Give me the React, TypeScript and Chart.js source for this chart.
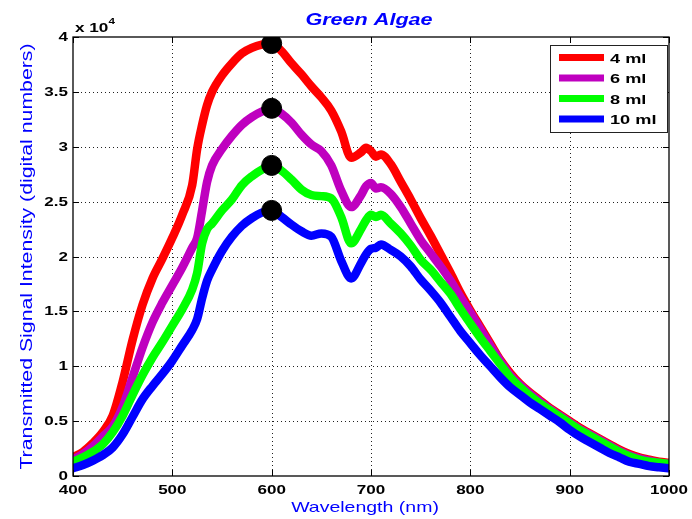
import React, { useEffect, useRef } from "react";
import { Chart, registerables } from "chart.js";

Chart.register(...registerables);

// Wavelength (nm) sample positions
const wavelengths = [
  400, 410, 420, 430, 440, 450, 460, 470, 480, 490, 500, 510, 520, 525, 530, 535, 540,
  550, 560, 570, 580, 590, 600, 610, 620, 630, 640, 650, 660, 670, 680, 690, 695, 700,
  705, 710, 720, 730, 740, 750, 760, 770, 780, 790, 800, 810, 820, 830, 840, 850, 860,
  870, 880, 890, 900, 910, 920, 930, 940, 950, 960, 970, 980, 990, 1000,
];

// Transmitted signal intensity, in units of 10^4 digital numbers
const signal4ml = [
  0.17, 0.22, 0.30, 0.40, 0.55, 0.86, 1.24, 1.56, 1.80, 1.98, 2.17, 2.38, 2.65, 2.98, 3.20, 3.38, 3.50,
  3.65, 3.76, 3.85, 3.90, 3.93, 3.94, 3.87, 3.76, 3.66, 3.55, 3.45, 3.33, 3.14, 2.90, 2.95, 2.99, 2.96,
  2.91, 2.93, 2.84, 2.68, 2.52, 2.35, 2.19, 2.02, 1.85, 1.67, 1.51, 1.36, 1.21, 1.06, 0.94, 0.84, 0.76,
  0.69, 0.62, 0.56, 0.50, 0.44, 0.39, 0.34, 0.29, 0.24, 0.20, 0.17, 0.15, 0.13, 0.12,
];
const signal6ml = [
  0.15, 0.20, 0.27, 0.36, 0.45, 0.63, 0.90, 1.17, 1.40, 1.58, 1.74, 1.90, 2.08, 2.17, 2.42, 2.68, 2.83,
  2.98, 3.10, 3.20, 3.27, 3.32, 3.35, 3.30, 3.22, 3.11, 3.02, 2.96, 2.83, 2.60, 2.45, 2.56, 2.64, 2.67,
  2.62, 2.63, 2.57, 2.45, 2.30, 2.15, 2.03, 1.91, 1.78, 1.63, 1.49, 1.34, 1.19, 1.05, 0.92, 0.83, 0.75,
  0.68, 0.61, 0.55, 0.49, 0.43, 0.38, 0.33, 0.28, 0.23, 0.19, 0.16, 0.14, 0.12, 0.11,
];
const signal8ml = [
  0.13, 0.17, 0.22, 0.29, 0.40, 0.55, 0.74, 0.92, 1.08, 1.22, 1.37, 1.52, 1.70, 1.85, 2.12, 2.25, 2.30,
  2.42, 2.52, 2.65, 2.73, 2.79, 2.83, 2.78, 2.70, 2.61, 2.56, 2.55, 2.53, 2.36, 2.12, 2.25, 2.33, 2.38,
  2.36, 2.38, 2.30, 2.21, 2.10, 1.97, 1.88, 1.77, 1.66, 1.52, 1.39, 1.26, 1.14, 1.02, 0.90, 0.81, 0.73,
  0.66, 0.60, 0.54, 0.48, 0.42, 0.37, 0.32, 0.27, 0.22, 0.18, 0.15, 0.13, 0.12, 0.11,
];
const signal10ml = [
  0.07, 0.10, 0.14, 0.19, 0.26, 0.38, 0.54, 0.70, 0.82, 0.93, 1.05, 1.19, 1.33, 1.43, 1.62, 1.78, 1.88,
  2.05, 2.18, 2.28, 2.35, 2.40, 2.42, 2.36, 2.29, 2.23, 2.19, 2.21, 2.18, 1.96, 1.80, 1.94, 2.02, 2.07,
  2.08, 2.11, 2.06, 2.00, 1.91, 1.79, 1.69, 1.58, 1.45, 1.32, 1.21, 1.10, 1.00, 0.90, 0.81, 0.74, 0.67,
  0.61, 0.55, 0.49, 0.42, 0.36, 0.31, 0.26, 0.21, 0.17, 0.13, 0.11, 0.09, 0.08, 0.07,
];

const seriesLabels = ["4 ml", "6 ml", "8 ml", "10 ml"];
const seriesValues = [signal4ml, signal6ml, signal8ml, signal10ml];
const seriesColors = ["#ff0000", "#bf00bf", "#00ff00", "#0000ff"];
const peakWavelength = 600;

const xTicks = [400, 500, 600, 700, 800, 900, 1000];
const xTickLabels = ["400", "500", "600", "700", "800", "900", "1000"];
const yTicks = [0, 0.5, 1, 1.5, 2, 2.5, 3, 3.5, 4];
const yTickLabels = ["0", "0.5", "1", "1.5", "2", "2.5", "3", "3.5", "4"];

const titleText = "Green Algae";
const xTitle = "Wavelength (nm)";
const yTitle = "Transmitted Signal Intensity (digital numbers)";

const FONT = '"Liberation Sans", Arial, Helvetica, sans-serif';

function drawText(
  ctx: CanvasRenderingContext2D,
  s: string,
  x: number,
  y: number,
  font: string,
  color: string,
  align: CanvasTextAlign,
  baseline: CanvasTextBaseline,
  sx: number,
  rot = 0
) {
  ctx.save();
  ctx.translate(x, y);
  if (rot) ctx.rotate(rot);
  ctx.scale(sx, 1);
  ctx.font = font;
  ctx.fillStyle = color;
  ctx.textAlign = align;
  ctx.textBaseline = baseline;
  ctx.fillText(s, 0, 0);
  ctx.restore();
}

const gridPlugin = {
  id: "matlabGrid",
  beforeDatasetsDraw(chart: any) {
    const { ctx, chartArea: a, scales } = chart;
    const xs = scales.x;
    const ys = scales.y;
    ctx.save();
    ctx.strokeStyle = "#222";
    ctx.lineWidth = 1;
    ctx.setLineDash([1, 3]);
    xTicks.forEach((v) => {
      const px = Math.round(xs.getPixelForValue(v)) + 0.5;
      if (px <= a.left + 1 || px >= a.right - 1) return;
      ctx.beginPath();
      ctx.moveTo(px, a.top);
      ctx.lineTo(px, a.bottom);
      ctx.stroke();
    });
    yTicks.forEach((v) => {
      const py = Math.round(ys.getPixelForValue(v)) + 0.5;
      if (py <= a.top + 1 || py >= a.bottom - 1) return;
      ctx.beginPath();
      ctx.moveTo(a.left, py);
      ctx.lineTo(a.right, py);
      ctx.stroke();
    });
    ctx.restore();
  },
  afterDatasetsDraw(chart: any) {
    const { ctx, chartArea: a, scales } = chart;
    const xs = scales.x;
    const ys = scales.y;
    ctx.save();
    // axes box
    ctx.setLineDash([]);
    ctx.strokeStyle = "#000";
    ctx.lineWidth = 1.3;
    ctx.strokeRect(a.left, a.top, a.right - a.left, a.bottom - a.top);
    // inner ticks
    const tl = 6;
    ctx.lineWidth = 1;
    xTicks.forEach((v) => {
      const px = Math.round(xs.getPixelForValue(v)) + 0.5;
      ctx.beginPath();
      ctx.moveTo(px, a.bottom);
      ctx.lineTo(px, a.bottom - tl);
      ctx.moveTo(px, a.top);
      ctx.lineTo(px, a.top + tl);
      ctx.stroke();
    });
    yTicks.forEach((v) => {
      const py = Math.round(ys.getPixelForValue(v)) + 0.5;
      ctx.beginPath();
      ctx.moveTo(a.left, py);
      ctx.lineTo(a.left + tl, py);
      ctx.moveTo(a.right, py);
      ctx.lineTo(a.right - tl, py);
      ctx.stroke();
    });
    ctx.restore();

    // tick labels
    const tickFont = `bold 13px ${FONT}`;
    xTicks.forEach((v, i) => {
      drawText(ctx, xTickLabels[i], xs.getPixelForValue(v), a.bottom + 14, tickFont, "#000", "center", "middle", 1.31);
    });
    yTicks.forEach((v, i) => {
      drawText(ctx, yTickLabels[i], a.left - 5, ys.getPixelForValue(v) + 0.5, tickFont, "#000", "right", "middle", 1.31);
    });
    // exponent label
    drawText(ctx, "x 10", a.left + 2, a.top - 5.5, `bold 13px ${FONT}`, "#000", "left", "alphabetic", 1.32);
    drawText(ctx, "4", a.left + 35.5, a.top - 13, `bold 9px ${FONT}`, "#000", "left", "alphabetic", 1.3);

    // titles
    drawText(ctx, titleText, (a.left + a.right) / 2 - 2, a.top - 12.5, `italic bold 16px ${FONT}`, "#0000ff", "center", "alphabetic", 1.35);
    drawText(ctx, xTitle, (a.left + a.right) / 2 - 6, a.bottom + 35.5, `15px ${FONT}`, "#0000ff", "center", "alphabetic", 1.3);
    drawText(ctx, yTitle, 32, (a.top + a.bottom) / 2, `16px ${FONT}`, "#0000ff", "center", "alphabetic", 1.33, -Math.PI / 2);

    // legend
    const bx = a.right - 119;
    const by = a.top + 8;
    const bw = 117;
    const bh = 87;
    ctx.save();
    ctx.fillStyle = "#fff";
    ctx.fillRect(bx, by, bw, bh);
    ctx.strokeStyle = "#222";
    ctx.lineWidth = 1;
    ctx.strokeRect(bx + 0.5, by + 0.5, bw, bh);
    seriesLabels.forEach((lab, i) => {
      const ly = by + 12.5 + i * 20.5;
      ctx.strokeStyle = seriesColors[i];
      ctx.lineWidth = 7;
      ctx.lineCap = "butt";
      ctx.beginPath();
      ctx.moveTo(bx + 9, ly);
      ctx.lineTo(bx + 54, ly);
      ctx.stroke();
      drawText(ctx, lab, bx + 60, ly + 5, `bold 13px ${FONT}`, "#000", "left", "alphabetic", 1.4);
    });
    ctx.restore();
  },
};

export default function App() {
  const ref = useRef<HTMLCanvasElement>(null);
  useEffect(() => {
    const peakIndex = wavelengths.indexOf(peakWavelength);
    const lineSets = seriesValues.map((vals, i) => ({
      label: seriesLabels[i],
      data: wavelengths.map((w, j) => ({ x: w, y: vals[j] })),
      borderColor: seriesColors[i],
      backgroundColor: seriesColors[i],
      borderWidth: 8.5,
      pointRadius: 0,
      cubicInterpolationMode: "monotone" as const,
      fill: false,
      borderJoinStyle: "round" as const,
      borderCapStyle: "round" as const,
      order: 4 - i,
    }));
    const markerSet = {
      label: "peaks",
      data: seriesValues.map((vals) => ({ x: peakWavelength, y: vals[peakIndex] })),
      showLine: false,
      pointRadius: 10,
      pointStyle: "circle" as const,
      pointBackgroundColor: "#000",
      pointBorderColor: "#000",
      pointBorderWidth: 1,
      borderColor: "#000",
      backgroundColor: "#000",
      order: 0,
    };
    const chart = new Chart(ref.current as HTMLCanvasElement, {
      type: "line",
      data: { datasets: [...lineSets, markerSet] as any },
      options: {
        responsive: false,
        animation: false,
        devicePixelRatio: 1,
        events: [],
        layout: { padding: { left: 0, right: 23, top: 37, bottom: 0 } },
        plugins: {
          legend: { display: false },
          title: { display: false },
          tooltip: { enabled: false },
        },
        scales: {
          x: {
            type: "linear",
            min: 400,
            max: 1000,
            ticks: { display: false, stepSize: 100 },
            grid: { display: false },
            border: { display: false },
            afterFit: (s: any) => {
              s.height = 43;
            },
          },
          y: {
            type: "linear",
            min: 0,
            max: 4,
            ticks: { display: false, stepSize: 0.5 },
            grid: { display: false },
            border: { display: false },
            afterFit: (s: any) => {
              s.width = 73;
            },
          },
        },
      } as any,
      plugins: [gridPlugin],
    });
    return () => chart.destroy();
  }, []);
  return (
    <div style={{ position: "fixed", left: 0, top: 0, width: 692, height: 519, background: "#fff" }}>
      <canvas ref={ref} width={692} height={519} style={{ display: "block" }} />
    </div>
  );
}
